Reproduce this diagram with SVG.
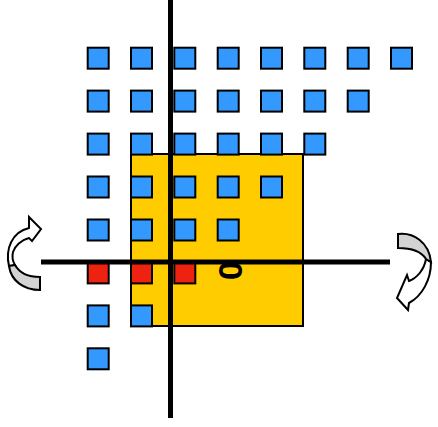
<svg xmlns="http://www.w3.org/2000/svg" width="438" height="427" viewBox="0 0 438 427">
  <style>
    .cell { stroke: #000; stroke-width: 2; }
    .blue { fill: #3399FF; }
    .red { fill: #EE2211; }
    .region { fill: #FFCC00; stroke: #000; stroke-width: 2; }
    .axis { stroke: #000; stroke-width: 5; fill: none; }
    .back { fill: #D3D3D3; stroke: #000; stroke-width: 2; stroke-linejoin: miter; }
    .front { fill: #FFFFFF; stroke: #000; stroke-width: 2; stroke-linejoin: miter; }
    .label { font-family: "Liberation Sans", Arial, sans-serif; font-weight: bold; font-size: 34px; fill: #000; }
  </style>

  <rect width="438" height="427" fill="#FFFFFF"/>

  <!-- highlighted square region -->
  <g id="region">
    <rect class="region" x="131" y="154" width="172" height="172"/>
  </g>

  <!-- lattice cells -->
  <g id="cells" class="cell">
    <!-- row 0 -->
    <rect id="c0_0" class="blue" x="87.7" y="47.7" width="21" height="21"/>
    <rect id="c1_0" class="blue" x="131" y="47.7" width="21" height="21"/>
    <rect id="c2_0" class="blue" x="174.3" y="47.7" width="21" height="21"/>
    <rect id="c3_0" class="blue" x="217.7" y="47.7" width="21" height="21"/>
    <rect id="c4_0" class="blue" x="261" y="47.7" width="21" height="21"/>
    <rect id="c5_0" class="blue" x="304.3" y="47.7" width="21" height="21"/>
    <rect id="c6_0" class="blue" x="347.7" y="47.7" width="21" height="21"/>
    <rect id="c7_0" class="blue" x="391" y="47.7" width="21" height="21"/>
    <!-- row 1 -->
    <rect id="c0_1" class="blue" x="87.7" y="90.6" width="21" height="21"/>
    <rect id="c1_1" class="blue" x="131" y="90.6" width="21" height="21"/>
    <rect id="c2_1" class="blue" x="174.3" y="90.6" width="21" height="21"/>
    <rect id="c3_1" class="blue" x="217.7" y="90.6" width="21" height="21"/>
    <rect id="c4_1" class="blue" x="261" y="90.6" width="21" height="21"/>
    <rect id="c5_1" class="blue" x="304.3" y="90.6" width="21" height="21"/>
    <rect id="c6_1" class="blue" x="347.7" y="90.6" width="21" height="21"/>
    <!-- row 2 -->
    <rect id="c0_2" class="blue" x="87.7" y="133.6" width="21" height="21"/>
    <rect id="c1_2" class="blue" x="131" y="133.6" width="21" height="21"/>
    <rect id="c2_2" class="blue" x="174.3" y="133.6" width="21" height="21"/>
    <rect id="c3_2" class="blue" x="217.7" y="133.6" width="21" height="21"/>
    <rect id="c4_2" class="blue" x="261" y="133.6" width="21" height="21"/>
    <rect id="c5_2" class="blue" x="304.3" y="133.6" width="21" height="21"/>
    <!-- row 3 -->
    <rect id="c0_3" class="blue" x="87.7" y="176.5" width="21" height="21"/>
    <rect id="c1_3" class="blue" x="131" y="176.5" width="21" height="21"/>
    <rect id="c2_3" class="blue" x="174.3" y="176.5" width="21" height="21"/>
    <rect id="c3_3" class="blue" x="217.7" y="176.5" width="21" height="21"/>
    <rect id="c4_3" class="blue" x="261" y="176.5" width="21" height="21"/>
    <!-- row 4 -->
    <rect id="c0_4" class="blue" x="87.7" y="219.5" width="21" height="21"/>
    <rect id="c1_4" class="blue" x="131" y="219.5" width="21" height="21"/>
    <rect id="c2_4" class="blue" x="174.3" y="219.5" width="21" height="21"/>
    <rect id="c3_4" class="blue" x="217.7" y="219.5" width="21" height="21"/>
    <!-- row 5 (on the axis) -->
    <rect id="c0_5" class="red" x="87.7" y="262.4" width="21" height="21"/>
    <rect id="c1_5" class="red" x="131" y="262.4" width="21" height="21"/>
    <rect id="c2_5" class="red" x="174.3" y="262.4" width="21" height="21"/>
    <!-- row 6 -->
    <rect id="c0_6" class="blue" x="87.7" y="305.4" width="21" height="21"/>
    <rect id="c1_6" class="blue" x="131" y="305.4" width="21" height="21"/>
    <!-- row 7 -->
    <rect id="c0_7" class="blue" x="87.7" y="348.3" width="21" height="21"/>
  </g>

  <!-- axes -->
  <g id="connectors">
    <line class="axis" x1="170.5" y1="0" x2="170.5" y2="418"/>
    <line class="axis" x1="41" y1="262" x2="390" y2="262"/>
  </g>

  <!-- origin label -->
  <g id="origin">
    <text class="label" text-anchor="middle" x="0" y="12" transform="translate(229.5,270.5) rotate(-90)">0</text>
  </g>

  <!-- rotation arrow, left end: ribbon curls up and points right -->
  <g id="rot-left">
    <path class="front" d="M9,266 C5,249 12,232 29,228 L29,217 L41,229 L32,241 L29,238 C21,240 15,246 13,252 C12,256 12,260 15,265 Z"/>
    <path class="back" d="M9,266 C11,281 24,290 40,290 L40,277 C27,277 19,272 15,265 Z"/>
  </g>

  <!-- rotation arrow, right end: ribbon curls down and points left -->
  <g id="rot-right">
    <path class="front" d="M431,262 C431,280 422,296 409,303 L408,310 L397,298 L407,275 L409,281 C417,278 424,270 426,259 Z"/>
    <path class="back" d="M398,234 C413,232 429,242 431,262 L426,259 C421,251 410,248 398,248 Z"/>
  </g>
</svg>
